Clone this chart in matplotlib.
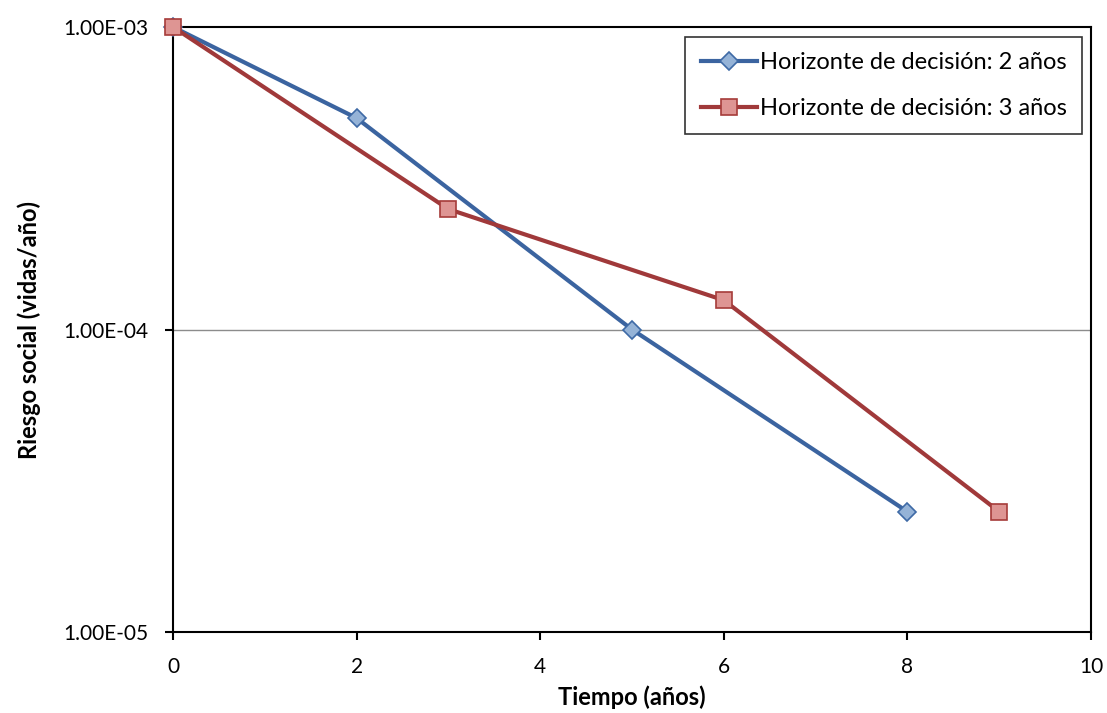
import matplotlib.pyplot as plt
from matplotlib.ticker import FixedLocator, NullLocator

plt.rcParams['font.family'] = ['Lato', 'DejaVu Sans']

# Data
t_2 = [0, 2, 5, 8]
risk_2 = [1.0e-3, 5.0e-4, 1.0e-4, 2.5e-5]
t_3 = [0, 3, 6, 9]
risk_3 = [1.0e-3, 2.5e-4, 1.25e-4, 2.5e-5]
labels = ["Horizonte de decisión: 2 años", "Horizonte de decisión: 3 años"]
y_ticks = [1e-5, 1e-4, 1e-3]
y_ticklabels = ["1.00E-05", "1.00E-04", "1.00E-03"]

fig = plt.figure(figsize=(11.07, 7.13), dpi=100)
ax = fig.add_axes([0.1563, 0.1136, 0.8292, 0.8485])

ax.plot(t_2, risk_2, color="#3B64A0", lw=3, marker="D", ms=9,
        mfc="#95B3D7", mec="#3E6AA6", mew=1.2, label=labels[0], zorder=3, clip_on=False)
ax.plot(t_3, risk_3, color="#A0393A", lw=3, marker="s", ms=12,
        mfc="#DE9593", mec="#A63C3A", mew=1.2, label=labels[1], zorder=3, clip_on=False)

ax.set_yscale("log")
ax.set_xlim(0, 10)
ax.set_ylim(1e-5, 1e-3)
ax.set_xticks(range(0, 11, 2))
ax.yaxis.set_major_locator(FixedLocator(y_ticks))
ax.yaxis.set_minor_locator(NullLocator())
ax.set_yticklabels(y_ticklabels)
ax.axhline(1e-4, color="#8C8C8C", lw=1, zorder=1)

ax.tick_params(axis="both", labelsize=15, length=6, width=1.5, direction="out")
ax.tick_params(axis="y", pad=12)
ax.tick_params(axis="x", pad=12)
for s in ax.spines.values():
    s.set_linewidth(1.5)
    s.set_color("black")

ax.set_xlabel("Tiempo (años)", fontsize=17, fontweight="bold", labelpad=6)
ax.set_ylabel("Riesgo social (vidas/año)", fontsize=17, fontweight="bold", labelpad=16)

leg = ax.legend(loc="upper right", fontsize=17, frameon=True, fancybox=False,
                edgecolor="black", borderpad=0.65, labelspacing=1.05,
                handlelength=2.4, handletextpad=0.1, borderaxespad=0,
                bbox_to_anchor=(0.990, 0.9835))
leg.get_frame().set_linewidth(1.2)

fig.savefig("out.png", dpi=100)
